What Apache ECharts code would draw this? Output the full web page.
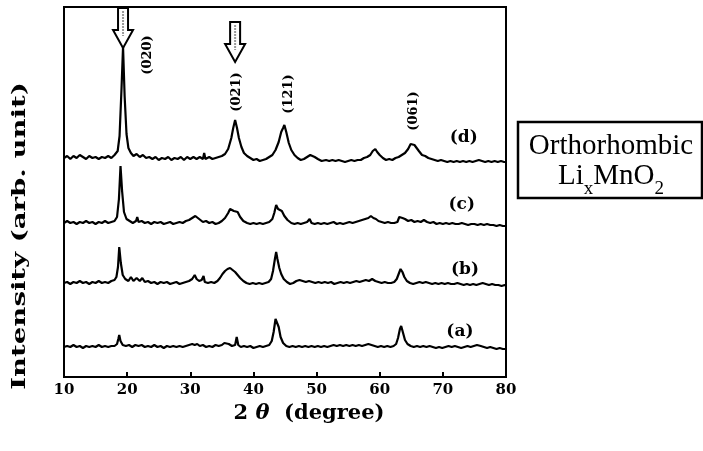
<!DOCTYPE html>
<html>
<head>
<meta charset="utf-8">
<title>XRD Li(x)MnO2</title>
<script src="https://cdn.jsdelivr.net/npm/echarts@6/dist/echarts.min.js"></script>
<style>
  html, body { margin: 0; padding: 0; background: #fff; }
  #chart { width: 703px; height: 451px; }
</style>
</head>
<body>
<div id="chart"></div>
<script>
// XRD patterns, [2theta, counts above own baseline]
var patternA = [[10,0],[10.5,1],[11,0],[11.5,2],[12,0],[12.5,1],[13,-1],[13.5,1],[14,0],[14.5,1],[15,0],[15.5,2],[16,0],[16.5,1],[17,0],[17.5,1],[18,1],[18.4,3],[18.6,8],[18.75,12],[18.95,6],[19.3,2],[19.8,1],[20.3,2],[20.8,0],[21.3,2],[21.8,1],[22.3,2],[22.8,0],[23.3,1],[23.8,0],[24.3,2],[24.8,0],[25.3,1],[25.8,-1],[26.3,1],[26.8,0],[27.3,1],[27.8,0],[28.3,1],[28.8,0],[29.3,1],[29.8,2],[30.3,3],[30.7,2],[31.1,3],[31.5,1],[32,2],[32.5,0],[33,1],[33.5,0],[34,2],[34.5,1],[35,2],[35.4,4],[35.7,5],[36.1,3],[36.6,1],[37.1,2],[37.35,10],[37.6,2],[38,0],[38.5,1],[39,0],[39.5,1],[40,-1],[40.5,0],[41,1],[41.5,0],[42,1],[42.5,2],[42.9,6],[43.2,15],[43.5,28],[43.7,29],[44,20],[44.3,10],[44.7,4],[45.2,1],[45.7,0],[46.2,1],[46.7,0],[47.2,1],[47.7,0],[48.2,1],[48.7,0],[49.2,1],[49.7,0],[50.2,1],[50.7,0],[51.2,1],[51.7,0],[52.2,1],[52.7,2],[53.2,1],[53.7,2],[54.2,1],[54.7,2],[55.2,1],[55.7,2],[56.2,1],[56.7,2],[57.2,1],[57.7,2],[58.2,3],[58.7,2],[59.2,1],[59.7,0],[60.2,1],[60.7,0],[61.2,1],[61.7,0],[62.2,1],[62.6,3],[62.9,9],[63.2,18],[63.4,21],[63.7,14],[64,7],[64.4,3],[64.9,1],[65.4,0],[65.9,1],[66.4,0],[66.9,1],[67.4,0],[67.9,1],[68.4,0],[68.9,-1],[69.4,0],[69.9,-1],[70.4,0],[70.9,1],[71.4,0],[71.9,1],[72.4,0],[72.9,-1],[73.4,0],[73.9,1],[74.4,0],[74.9,1],[75.4,2],[75.7,3],[76,1],[76.5,0],[77,-1],[77.5,0],[78,-1],[78.5,-2],[79,-1],[79.5,-2],[80,-2]]

var patternB = [[10,0],[10.5,1],[11,-1],[11.5,1],[12,0],[12.5,2],[13,0],[13.5,1],[14,-1],[14.5,1],[15,0],[15.5,2],[16,0],[16.5,1],[17,0],[17.5,2],[18,3],[18.3,6],[18.55,16],[18.75,36],[19,20],[19.3,8],[19.7,4],[20.2,2],[20.6,6],[21,2],[21.5,5],[22,2],[22.4,5],[22.8,1],[23.3,2],[23.8,0],[24.3,1],[24.8,-1],[25.3,1],[25.8,0],[26.3,1],[26.8,-1],[27.3,0],[27.8,1],[28.3,-1],[28.8,0],[29.3,1],[29.8,2],[30.3,4],[30.7,8],[31,4],[31.4,2],[31.8,3],[32.1,7],[32.3,1],[32.8,0],[33.3,1],[33.8,0],[34.3,2],[34.7,5],[35.1,9],[35.5,12],[35.9,14],[36.3,15],[36.7,13],[37.1,11],[37.5,8],[37.9,5],[38.4,2],[38.9,0],[39.4,-1],[39.9,0],[40.4,-1],[40.9,0],[41.4,-1],[41.9,0],[42.4,1],[42.8,4],[43.1,12],[43.4,24],[43.6,31],[43.8,24],[44.1,15],[44.4,9],[44.8,4],[45.3,1],[45.8,-1],[46.3,0],[46.8,2],[47.3,3],[47.8,2],[48.3,1],[48.8,2],[49.3,1],[49.8,0],[50.3,1],[50.8,0],[51.3,1],[51.8,0],[52.3,1],[52.8,-1],[53.3,0],[53.8,1],[54.3,0],[54.8,1],[55.3,0],[55.8,1],[56.3,2],[56.8,1],[57.3,2],[57.8,3],[58.3,2],[58.8,4],[59.3,2],[59.8,1],[60.3,0],[60.8,1],[61.3,0],[61.8,0],[62.3,1],[62.7,4],[63,9],[63.3,14],[63.6,11],[63.9,6],[64.3,2],[64.8,0],[65.3,-1],[65.8,0],[66.3,1],[66.8,0],[67.3,1],[67.8,0],[68.3,-1],[68.8,0],[69.3,-1],[69.8,0],[70.3,-1],[70.8,0],[71.3,-1],[71.8,-1],[72.3,0],[72.8,-1],[73.3,-2],[73.8,-1],[74.3,-2],[74.8,-1],[75.3,-2],[75.8,-1],[76.3,0],[76.8,-1],[77.3,-2],[77.8,-1],[78.3,-2],[78.8,-2],[79.3,-3],[79.8,-2],[80,-3]]

var patternC = [[10,0],[10.5,2],[11,0],[11.5,1],[12,-1],[12.5,1],[13,0],[13.5,2],[14,0],[14.5,1],[15,-1],[15.5,1],[16,0],[16.5,2],[17,0],[17.5,1],[18,2],[18.4,6],[18.7,24],[18.95,57],[19.2,32],[19.5,11],[19.9,4],[20.4,2],[20.9,0],[21.4,2],[21.6,6],[21.8,1],[22.3,2],[22.8,0],[23.3,1],[23.8,-1],[24.3,1],[24.8,0],[25.3,1],[25.8,-1],[26.3,0],[26.8,1],[27.3,-1],[27.8,0],[28.3,1],[28.8,0],[29.3,2],[29.8,3],[30.3,5],[30.8,7],[31.2,5],[31.6,3],[32,1],[32.5,2],[33,0],[33.5,1],[34,-1],[34.5,0],[35,2],[35.5,5],[36,10],[36.3,14],[36.6,15],[36.9,12],[37.2,13],[37.5,11],[37.9,6],[38.4,2],[39,0],[39.5,-1],[40,0],[40.5,-1],[41,0],[41.5,-1],[42,0],[42.5,1],[43,4],[43.3,10],[43.6,18],[43.9,14],[44.2,16],[44.5,12],[44.9,7],[45.4,3],[46,0],[46.5,-1],[47,0],[47.5,-1],[48,0],[48.5,1],[48.9,4],[49.2,0],[49.7,-1],[50.2,0],[50.7,-1],[51.2,0],[51.7,-1],[52.2,0],[52.7,1],[53.2,-1],[53.7,0],[54.2,-1],[54.7,0],[55.2,1],[55.7,0],[56.2,1],[56.7,2],[57.2,3],[57.7,4],[58.2,5],[58.6,7],[59,5],[59.4,4],[59.8,2],[60.3,1],[60.8,0],[61.3,1],[61.8,0],[62.3,0],[62.8,1],[63.1,6],[63.3,8],[63.6,5],[64,4],[64.5,2],[65,3],[65.5,1],[66,2],[66.5,1],[67,3],[67.5,1],[68,0],[68.5,1],[69,-1],[69.5,0],[70,-1],[70.5,0],[71,-1],[71.5,0],[72,-1],[72.5,-1],[73,0],[73.5,-1],[74,-2],[74.5,-1],[75,-1],[75.5,-2],[76,-1],[76.5,-2],[77,-1],[77.5,-2],[78,-2],[78.5,-3],[79,-2],[79.5,-3],[80,-3]]

var patternD = [[10,0],[10.5,2],[11,-1],[11.5,2],[12,0],[12.5,3],[13,1],[13.5,-1],[14,2],[14.5,0],[15,1],[15.5,-1],[16,1],[16.5,0],[17,2],[17.5,0],[18,3],[18.5,7],[18.8,22],[19.1,68],[19.35,111],[19.6,62],[19.9,24],[20.2,10],[20.6,5],[21,2],[21.5,4],[22,1],[22.5,3],[23,0],[23.5,1],[24,-1],[24.5,1],[25,-2],[25.5,0],[26,-1],[26.5,1],[27,-2],[27.5,0],[28,-1],[28.5,1],[29,-2],[29.5,1],[30,-1],[30.5,1],[31,-1],[31.5,1],[32,-1],[32.2,5],[32.4,-1],[33,1],[33.5,-1],[34,0],[34.5,1],[35,2],[35.5,4],[36,9],[36.5,20],[36.8,30],[37.1,38],[37.4,30],[37.7,20],[38.1,11],[38.5,5],[39,2],[39.5,0],[40,-2],[40.5,-1],[41,-3],[41.5,-2],[42,-1],[42.5,1],[43,3],[43.5,8],[44,16],[44.4,26],[44.7,30],[44.9,33],[45.2,26],[45.6,15],[46,8],[46.5,3],[47,0],[47.5,-2],[48,-1],[48.5,1],[49,3],[49.3,5],[49.7,1],[50.2,-1],[50.8,-3],[51.5,-2],[52,-3],[52.5,-2],[53,-3],[53.5,-2],[54,-3],[54.5,-4],[55,-3],[55.5,-2],[56,-3],[56.5,-2],[57,-2],[57.5,0],[58,1],[58.5,3],[58.9,7],[59.3,9],[59.6,6],[60,3],[60.5,0],[61,-2],[61.5,-1],[62,-2],[62.5,0],[63,1],[63.5,3],[64,5],[64.5,9],[64.9,14],[65.2,16],[65.5,13],[65.8,12],[66.2,7],[66.7,3],[67.2,2],[67.7,0],[68.2,-1],[68.7,-2],[69.2,-3],[69.7,-2],[70.2,-3],[70.7,-4],[71.2,-3],[71.7,-4],[72.2,-3],[72.7,-4],[73.2,-3],[73.7,-4],[74.2,-3],[74.7,-4],[75.2,-3],[75.7,-2],[76.2,-3],[76.7,-4],[77.2,-3],[77.7,-4],[78.2,-3],[78.7,-4],[79.2,-3],[79.7,-4],[80,-4]]

var sampleNames = ['(a)', '(b)', '(c)', '(d)']
var patterns = [patternA, patternB, patternC, patternD]
// vertical stacking offset of each pattern (arb. unit)
var offsets = [30, 94, 154, 219]
var xTicks = [10, 20, 30, 40, 50, 60, 70, 80]

var SERIF_B = 'DejaVu Serif'

var chart = echarts.init(document.getElementById('chart'), null, { renderer: 'canvas' })

var series = patterns.map(function (p, i) {
  return {
    name: sampleNames[i],
    type: 'line',
    showSymbol: false,
    silent: true,
    lineStyle: { color: '#000', width: 2.2 },
    data: p.map(function (pt) { return [pt[0], pt[1] + offsets[i]] })
  }
})

chart.setOption({
  animation: false,
  backgroundColor: '#fff',
  grid: { left: 64, right: 197, top: 7, bottom: 74, show: true, borderColor: '#000', borderWidth: 2 },
  xAxis: {
    type: 'value', min: xTicks[0], max: xTicks[xTicks.length - 1], interval: 10,
    axisLine: { lineStyle: { color: '#000', width: 2 } },
    axisTick: { inside: true, length: 5, lineStyle: { color: '#000', width: 2 } },
    splitLine: { show: false },
    axisLabel: { margin: 6, color: '#000', fontFamily: SERIF_B, fontWeight: 'bold', fontSize: 15 },
    name: '{n|2 }{t|θ}{n|  (degree)}',
    nameLocation: 'middle',
    nameGap: 17,
    nameTextStyle: {
      padding: [0, 0, 0, 48],
      rich: {
        n: { fontFamily: SERIF_B, fontWeight: 'bold', fontSize: 21, color: '#000' },
        t: { fontFamily: SERIF_B, fontWeight: 'bold', fontStyle: 'italic', fontSize: 21, color: '#000' }
      }
    }
  },
  yAxis: {
    type: 'value', min: 0, max: 370,
    axisLine: { show: true, lineStyle: { color: '#000', width: 2 } },
    axisTick: { show: false },
    axisLabel: { show: false },
    splitLine: { show: false }
  },
  series: series
})

// annotations placed in data coordinates
var hkl = [
  { text: '(020)', at: [23.3, 322] },
  { text: '(021)', at: [37.4, 285] },
  { text: '(121)', at: [45.5, 283] },
  { text: '(061)', at: [65.3, 266] }
]
var arrowTips = [[19.35, 329], [37.1, 315]]
var sampleLabelAt = [[72.7, 45], [73.5, 107], [73.0, 172], [73.3, 239]]

function px(p) { return chart.convertToPixel({ gridIndex: 0 }, p) }

var graphics = []

hkl.forEach(function (h) {
  var q = px(h.at)
  graphics.push({
    type: 'text', x: q[0], y: q[1], rotation: Math.PI / 2, z: 100,
    style: { text: h.text, fontFamily: SERIF_B, fontWeight: 'bold', fontSize: 13, fill: '#000',
      align: 'center', verticalAlign: 'middle', textAlign: 'center', textVerticalAlign: 'middle' }
  })
})

sampleLabelAt.forEach(function (p, i) {
  var q = px(p)
  graphics.push({
    type: 'text', x: q[0], y: q[1], z: 100,
    style: { text: sampleNames[i], fontFamily: SERIF_B, fontWeight: 'bold', fontSize: 17, fill: '#000',
      align: 'center', verticalAlign: 'middle', textAlign: 'center', textVerticalAlign: 'middle' }
  })
})

arrowTips.forEach(function (p) {
  var q = px(p), tx = q[0], ty = q[1]
  graphics.push({
    type: 'polygon', z: 100,
    shape: { points: [[tx - 5, ty - 40], [tx + 5, ty - 40], [tx + 5, ty - 18], [tx + 10, ty - 18], [tx, ty], [tx - 10, ty - 18], [tx - 5, ty - 18]] },
    style: { fill: '#fff', stroke: '#000', lineWidth: 2 }
  })
  graphics.push({
    type: 'line', z: 101,
    shape: { x1: tx, y1: ty - 37, x2: tx, y2: ty - 12 },
    style: { stroke: '#999', lineWidth: 2, lineDash: [2, 1] }
  })
})

// y axis title (stretched along its length like the scan)
graphics.push({
  type: 'text', x: 20, y: 236, rotation: Math.PI / 2, scaleX: 1.45, z: 100,
  style: { text: 'Intensity (arb. unit)', fontFamily: SERIF_B, fontWeight: 'bold', fontSize: 19, fill: '#000',
    align: 'center', verticalAlign: 'middle', textAlign: 'center', textVerticalAlign: 'middle' }
})

// phase box
graphics.push({
  type: 'rect', z: 100,
  shape: { x: 518, y: 122, width: 184, height: 76 },
  style: { fill: '#fff', stroke: '#000', lineWidth: 2.5 }
})
graphics.push({
  type: 'text', x: 611, y: 146, z: 101,
  style: { text: 'Orthorhombic', fontFamily: 'Liberation Serif', fontSize: 29, fill: '#000',
    align: 'center', verticalAlign: 'middle', textAlign: 'center', textVerticalAlign: 'middle' }
})
graphics.push({
  type: 'text', x: 611, y: 180, z: 101,
  style: {
    text: '{n|Li}{s|x}{n|MnO}{s|2}',
    align: 'center', verticalAlign: 'middle', textAlign: 'center', textVerticalAlign: 'middle',
    rich: {
      n: { fontFamily: 'Liberation Serif', fontSize: 29, fill: '#000', verticalAlign: 'bottom', padding: [0, 0, 8, 0] },
      s: { fontFamily: 'Liberation Serif', fontSize: 19, fill: '#000', verticalAlign: 'bottom' }
    }
  }
})

chart.setOption({ graphic: graphics })
</script>
</body>
</html>
